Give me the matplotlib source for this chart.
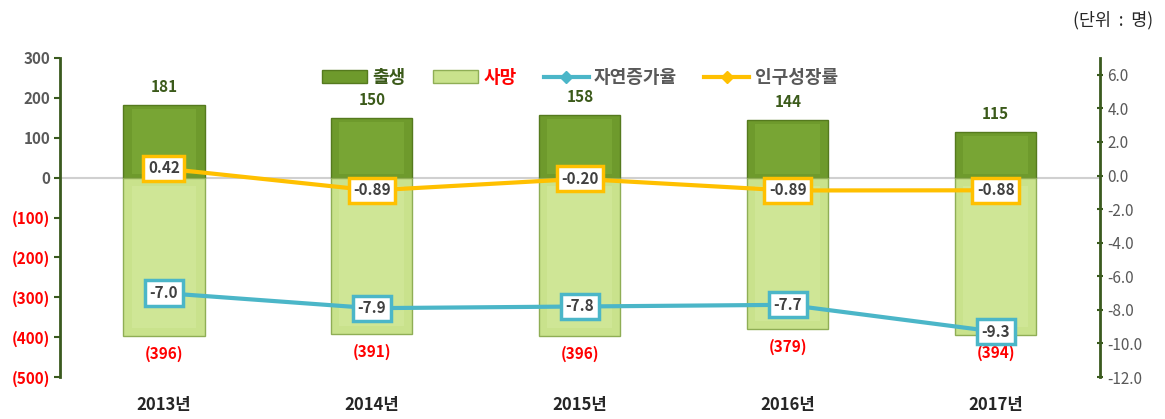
import matplotlib.pyplot as plt
import numpy as np
from matplotlib.patches import Patch
from matplotlib.lines import Line2D

plt.rcParams['font.family'] = ['Noto Sans CJK KR', 'DejaVu Sans']

# 데이터
years = ['2013년', '2014년', '2015년', '2016년', '2017년']
births = [181, 150, 158, 144, 115]
deaths = [-396, -391, -396, -379, -394]
natural_rate = [-7.0, -7.9, -7.8, -7.7, -9.3]
pop_rate = [0.42, -0.89, -0.20, -0.89, -0.88]

left_ticks = [300, 200, 100, 0, -100, -200, -300, -400, -500]
right_ticks = [6, 4, 2, 0, -2, -4, -6, -8, -10, -12]

c_birth = '#6e9a2c'
c_death = '#c9e28c'
c_nat = '#4bb6c8'
c_pop = '#ffc000'
c_axis = '#3a5a1e'

fig = plt.figure(figsize=(11.65, 4.19), dpi=100)
ax = fig.add_axes([0.0515, 0.1002, 0.8925, 0.7614])
ax2 = ax.twinx()

x = np.arange(len(years))
w = 0.39
ax.bar(x, births, width=w, color=c_birth, edgecolor='#557a1e', linewidth=1, zorder=2)
ax.bar(x, deaths, width=w, color=c_death, edgecolor='#8fae55', linewidth=1, zorder=2)
# 안쪽 밝은 면 (입체 효과)
ax.bar(x, np.array(births) - 20, bottom=10, width=w * 0.8, color='#78a534', linewidth=0, zorder=2)
ax.bar(x, np.array(deaths) + 40, bottom=-20, width=w * 0.8, color='#cfe696', linewidth=0, zorder=2)
ax.axhline(0, color='#d0d0d0', linewidth=1.5, zorder=1)

for i in range(len(x)):
    ax.text(x[i], births[i] + 25, str(births[i]), ha='center', va='bottom',
            fontsize=11, fontweight='bold', color='#3b5a1a')
    ax.text(x[i], deaths[i] - 25, '(%d)' % -deaths[i], ha='center', va='top',
            fontsize=11, fontweight='bold', color='red')

ax.set_xlim(-0.5, len(years) - 0.5)
ax.set_ylim(-500, 300)
ax.set_yticks(left_ticks)
ax.set_yticklabels([str(v) if v >= 0 else '(%d)' % -v for v in left_ticks])
for lbl, v in zip(ax.get_yticklabels(), left_ticks):
    lbl.set_color('#595959' if v >= 0 else 'red')
    lbl.set_fontweight('bold')
    lbl.set_fontsize(11)
ax.set_xticks(x)
ax.set_xticklabels(years, fontsize=12, fontweight='bold', color='#262626')
ax.tick_params(axis='x', length=0, pad=14)
ax.tick_params(axis='y', length=4, width=1.5, color=c_axis, pad=3)

ax2.plot(x, natural_rate, color=c_nat, linewidth=3, marker='D', markersize=5, zorder=3)
ax2.plot(x, pop_rate, color=c_pop, linewidth=3, marker='D', markersize=5, zorder=3)
for i in range(len(x)):
    ax2.text(x[i], natural_rate[i], '%.1f' % natural_rate[i], ha='center', va='center',
             fontsize=11, fontweight='bold', color='#404040', zorder=5,
             bbox=dict(boxstyle='square,pad=0.3', fc='white', ec=c_nat, lw=2.5))
    ax2.text(x[i], pop_rate[i], '%.2f' % pop_rate[i], ha='center', va='center',
             fontsize=11, fontweight='bold', color='#404040', zorder=5,
             bbox=dict(boxstyle='square,pad=0.3', fc='white', ec=c_pop, lw=2.5))
ax2.set_ylim(-12, 7)
ax2.set_yticks(right_ticks)
ax2.set_yticklabels(['%.1f' % v for v in right_ticks], fontsize=11, color='#595959')
ax2.tick_params(axis='y', length=4, width=1.5, color=c_axis, direction='inout')

for a in (ax, ax2):
    for s in ('top', 'bottom'):
        a.spines[s].set_visible(False)
ax.spines['right'].set_visible(False)
ax2.spines['left'].set_visible(False)
ax.spines['left'].set_color(c_axis)
ax.spines['left'].set_linewidth(2)
ax2.spines['right'].set_color(c_axis)
ax2.spines['right'].set_linewidth(2)

handles = [Patch(fc=c_birth, ec='#557a1e'), Patch(fc=c_death, ec='#8fae55'),
           Line2D([], [], color=c_nat, lw=3, marker='D', markersize=6),
           Line2D([], [], color=c_pop, lw=3, marker='D', markersize=6)]
leg = ax.legend(handles, ['출생', '사망', '자연증가율', '인구성장률'], ncol=4,
                loc='upper center', bbox_to_anchor=(0.5, 1.02), frameon=False,
                prop={'size': 13, 'weight': 'bold'}, handlelength=2.5,
                handletextpad=0.3, columnspacing=1.5)
for t, c in zip(leg.get_texts(), ['#3b5a1a', 'red', '#595959', '#595959']):
    t.set_color(c)

fig.text(0.99, 0.975, '(단위  :  명)', ha='right', va='top', fontsize=12.5, color='#262626')

plt.savefig('out.png', dpi=100)
